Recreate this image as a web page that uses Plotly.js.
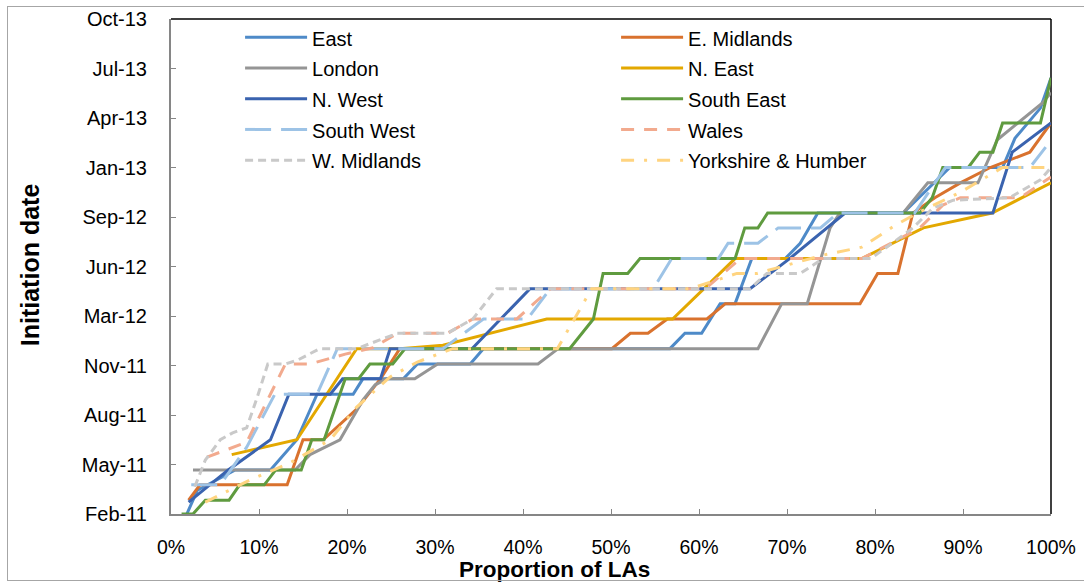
<!DOCTYPE html>
<html>
<head>
<meta charset="utf-8">
<script src="https://cdn.plot.ly/plotly-3.0.1.min.js"></script>
<style>
  html, body { margin: 0; padding: 0; background: #fff; }
  #wrap { position: relative; width: 1084px; height: 584px; overflow: hidden; }
  #chart { position: absolute; left: 0; top: 0; width: 1084px; height: 584px; }
  #frame { position: absolute; left: 7px; top: 6px; width: 1090px; height: 575px; border: 1px solid #a6a6a6; box-sizing: border-box; pointer-events: none; }
</style>
</head>
<body>
<div id="wrap"><div id="chart"></div><div id="frame"></div></div>
<script>
// Series names (legend order)
const seriesNames = ["East", "E. Midlands", "London", "N. East", "N. West", "South East", "South West", "Wales", "W. Midlands", "Yorkshire & Humber"];

// Proportion of LAs (%) and initiation dates
const eastX = [1.8, 3.0, 7.3, 11.3, 14.3, 16.6, 20.7, 21.8, 26.4, 28.0, 34.0, 35.5, 56.7, 58.4, 60.3, 62.4, 64.1, 66.0, 69.8, 71.5, 73.5, 83.2, 88.5, 94.5, 95.9, 98.8, 100];
const eastY = ['2011-02-01','2011-03-21','2011-05-01','2011-05-01','2011-07-01','2011-10-01','2011-10-01','2011-11-01','2011-11-01','2011-12-01','2011-12-01','2012-01-01','2012-01-01','2012-02-01','2012-02-01','2012-04-01','2012-04-01','2012-07-01','2012-07-01','2012-08-01','2012-10-01','2012-10-01','2013-01-01','2013-01-01','2013-03-01','2013-05-01','2013-07-01'];

const eMidX = [2.0, 3.3, 13.2, 15.0, 17.3, 21.1, 23.8, 24.9, 26.0, 50.1, 52.2, 54.2, 56.4, 60.9, 63.0, 78.3, 80.3, 82.6, 84.3, 86.8, 89.7, 93.1, 97.6, 100];
const eMidY = ['2011-03-01','2011-04-01','2011-04-01','2011-07-01','2011-07-01','2011-09-01','2011-11-01','2011-12-01','2012-01-01','2012-01-01','2012-02-01','2012-02-01','2012-03-01','2012-03-01','2012-04-01','2012-04-01','2012-06-01','2012-06-01','2012-10-01','2012-11-01','2012-12-01','2013-01-01','2013-02-01','2013-04-01'];

const londonX = [2.5, 14.1, 15.8, 19.2, 20.3, 21.8, 23.2, 24.5, 27.7, 30.3, 41.7, 44.0, 66.7, 69.4, 72.3, 74.9, 76.0, 83.2, 86.0, 91.7, 93.9, 95.3, 99.0, 100];
const londonY = ['2011-05-01','2011-05-01','2011-06-01','2011-07-01','2011-08-04','2011-09-19','2011-10-20','2011-11-01','2011-11-01','2011-12-01','2011-12-01','2012-01-01','2012-01-01','2012-04-01','2012-04-01','2012-09-01','2012-10-01','2012-10-01','2012-12-01','2012-12-01','2013-02-26','2013-03-18','2013-05-11','2013-06-01'];

const nEastX = [6.9, 14.3, 21.1, 26.0, 30.9, 42.7, 57.0, 64.1, 78.5, 85.5, 93.3, 100];
const nEastY = ['2011-06-01','2011-07-01','2012-01-01','2012-01-01','2012-01-08','2012-03-01','2012-03-01','2012-07-01','2012-07-01','2012-09-01','2012-10-01','2012-12-01'];

const nWestX = [2.0, 6.5, 11.3, 13.4, 18.1, 19.5, 23.8, 24.9, 34.2, 40.8, 65.8, 70.3, 76.6, 93.4, 95.6, 100];
const nWestY = ['2011-02-25','2011-05-01','2011-07-01','2011-10-01','2011-10-01','2011-11-01','2011-11-01','2012-01-01','2012-01-01','2012-05-01','2012-05-01','2012-07-01','2012-10-01','2012-10-01','2013-02-01','2013-04-01'];

const sEastX = [1.2, 2.5, 3.9, 6.6, 7.8, 10.6, 11.9, 14.8, 16.0, 17.4, 19.8, 21.3, 22.6, 25.2, 26.6, 45.3, 48.0, 49.1, 51.9, 53.3, 64.1, 65.2, 66.7, 67.8, 85.1, 86.5, 87.7, 90.6, 91.9, 93.4, 94.5, 98.8, 100];
const sEastY = ['2011-02-01','2011-02-01','2011-03-01','2011-03-01','2011-04-01','2011-04-01','2011-05-01','2011-05-01','2011-07-01','2011-07-01','2011-11-01','2011-11-01','2011-12-01','2011-12-01','2012-01-01','2012-01-01','2012-03-01','2012-06-01','2012-06-01','2012-07-01','2012-07-01','2012-09-01','2012-09-01','2012-10-01','2012-10-01','2012-11-01','2013-01-01','2013-01-01','2013-02-01','2013-02-01','2013-04-01','2013-04-01','2013-07-01'];

const sWestX = [2.3, 5.6, 8.6, 11.8, 16.6, 18.9, 30.9, 35.5, 40.5, 43.1, 54.8, 56.9, 62.2, 63.3, 66.7, 69.0, 73.8, 75.8, 84.5, 88.0, 97.6, 99.4];
const sWestY = ['2011-04-01','2011-04-01','2011-06-16','2011-10-01','2011-10-01','2012-01-01','2012-01-01','2012-03-01','2012-03-01','2012-05-01','2012-05-01','2012-07-01','2012-07-01','2012-08-01','2012-08-01','2012-09-01','2012-09-01','2012-10-01','2012-10-01','2013-01-01','2013-01-01','2013-02-11'];

const walesX = [4.1, 8.6, 13.0, 15.8, 19.8, 23.0, 25.7, 31.4, 34.3, 39.3, 43.1, 60.7, 64.7, 78.5, 85.1, 87.7, 89.7, 96.5, 100];
const walesY = ['2011-05-27','2011-06-26','2011-12-01','2011-12-01','2011-12-21','2012-01-03','2012-02-01','2012-02-01','2012-03-01','2012-03-01','2012-05-01','2012-05-01','2012-07-01','2012-07-01','2012-09-01','2012-10-17','2012-11-01','2012-11-01','2012-12-13'];

const wMidX = [2.7, 3.9, 5.6, 7.0, 8.6, 9.8, 11.0, 13.0, 14.4, 16.9, 21.1, 25.7, 31.4, 34.3, 37.0, 65.8, 67.7, 71.5, 74.1, 79.5, 82.5, 84.3, 86.6, 88.9, 95.3, 98.8, 100];
const wMidY = ['2011-03-28','2011-05-21','2011-07-01','2011-07-15','2011-07-25','2011-09-25','2011-12-01','2011-12-01','2011-12-09','2012-01-01','2012-01-01','2012-02-01','2012-02-01','2012-03-01','2012-05-01','2012-05-01','2012-06-01','2012-06-01','2012-07-01','2012-07-01','2012-08-08','2012-09-01','2012-10-11','2012-10-27','2012-11-01','2012-12-07','2013-01-01'];

const yorksX = [3.9, 9.0, 13.5, 18.1, 21.1, 24.9, 28.0, 32.0, 43.9, 47.8, 59.0, 64.3, 66.6, 74.1, 78.5, 82.0, 84.8, 89.7, 94.5, 100];
const yorksY = ['2011-02-25','2011-04-11','2011-05-15','2011-07-01','2011-09-05','2011-11-05','2011-12-05','2012-01-01','2012-01-01','2012-05-01','2012-05-01','2012-06-01','2012-06-01','2012-07-08','2012-07-24','2012-09-03','2012-10-01','2012-11-12','2013-01-01','2013-01-01'];

// Axis settings
const yTickStart = '2011-02-01';
const yRange = ['2011-02-01', '2013-10-28'];
const xRange = [0, 100];
const xTitle = 'Proportion of LAs';
const yTitle = 'Initiation date';

const seriesX = [eastX, eMidX, londonX, nEastX, nWestX, sEastX, sWestX, walesX, wMidX, yorksX];
const seriesY = [eastY, eMidY, londonY, nEastY, nWestY, sEastY, sWestY, walesY, wMidY, yorksY];
const colors = ['#4E8AC8', '#D9722E', '#959595', '#E3A800', '#3A63AF', '#5F9B3F', '#9DC3E6', '#F2AA8E', '#C9C9C9', '#FFD480'];
const dashes = ['solid', 'solid', 'solid', 'solid', 'solid', 'solid', '26px,10px', '13px,10px', '8px,5px', '13px,10px,3px,10px'];

const traces = seriesNames.map((name, i) => ({
  type: 'scatter',
  mode: 'lines',
  name: '<span style="font-size:20px">' + name + '</span>',
  x: seriesX[i],
  y: seriesY[i],
  line: { color: colors[i], width: 3, dash: dashes[i] },
  hoverinfo: 'x+y'
}));

const font = "'Liberation Sans', Arial, sans-serif";

const layout = {
  width: 1084,
  height: 584,
  margin: { l: 171, r: 33, t: 19, b: 70, pad: 0 },
  paper_bgcolor: '#ffffff',
  plot_bgcolor: '#ffffff',
  font: { family: font, size: 19, color: '#000' },
  showlegend: true,
  legend: {
    orientation: 'h',
    x: 0.0785, xanchor: 'left',
    y: 1.004, yanchor: 'top',
    entrywidth: 299, entrywidthmode: 'pixels',
    itemwidth: 62,
    font: { family: font, size: 21.3, color: '#000' },
    bgcolor: 'rgba(0,0,0,0)',
    traceorder: 'normal'
  },
  xaxis: {
    range: xRange,
    tick0: 0, dtick: 10,
    ticksuffix: '%',
    showgrid: false, zeroline: false,
    showline: true, linecolor: '#868686', linewidth: 2,
    ticks: 'inside', ticklen: 5, tickcolor: '#868686', tickwidth: 1,
    ticklabelstandoff: 15,
    tickfont: { family: font, size: 19.5, color: '#000' }
  },
  yaxis: {
    type: 'date',
    range: yRange,
    tick0: yTickStart, dtick: 100 * 86400000,
    tickformat: '%b-%y',
    showgrid: false, zeroline: false,
    showline: true, linecolor: '#868686', linewidth: 2,
    ticks: 'inside', ticklen: 5, tickcolor: '#868686', tickwidth: 1,
    ticklabelstandoff: 18,
    tickfont: { family: font, size: 20, color: '#000' }
  },
  annotations: [
    { text: '<b>' + xTitle + '</b>', xref: 'paper', yref: 'paper', x: 0.436, y: -0.113, xanchor: 'center', yanchor: 'middle', showarrow: false, font: { family: font, size: 22.5, color: '#000' } },
    { text: '<b>' + yTitle + '</b>', xref: 'paper', yref: 'paper', x: -0.160, y: 0.503, xanchor: 'center', yanchor: 'middle', textangle: -90, showarrow: false, font: { family: font, size: 25, color: '#000' } }
  ],
  shapes: [
    { type: 'line', xref: 'paper', yref: 'paper', x0: 0, x1: 1, y0: 1, y1: 1, line: { color: '#000', width: 1.5 }, layer: 'below' },
    { type: 'line', xref: 'paper', yref: 'paper', x0: 1, x1: 1, y0: 0, y1: 1, line: { color: '#000', width: 1.5 }, layer: 'below' }
  ]
};

Plotly.newPlot('chart', traces, layout, { displayModeBar: false, staticPlot: true });
</script>
</body>
</html>
